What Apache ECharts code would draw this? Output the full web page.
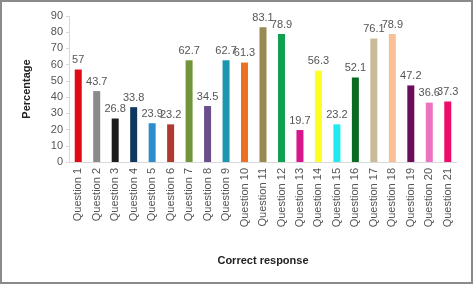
<!DOCTYPE html>
<html><head><meta charset="utf-8">
<script src="https://cdn.jsdelivr.net/npm/echarts@6/dist/echarts.min.js"></script>
<style>html,body{margin:0;padding:0;background:#fff}#c{width:474px;height:285px}</style>
</head><body><div id="c"></div>
<script>
const categories = ["Question 1","Question 2","Question 3","Question 4","Question 5","Question 6","Question 7","Question 8","Question 9","Question 10","Question 11","Question 12","Question 13","Question 14","Question 15","Question 16","Question 17","Question 18","Question 19","Question 20","Question 21"];
const values = [57,43.7,26.8,33.8,23.9,23.2,62.7,34.5,62.7,61.3,83.1,78.9,19.7,56.3,23.2,52.1,76.1,78.9,47.2,36.6,37.3];
const colors = ["#e00a14","#8a8a8a","#1c1c1c","#10385e","#2e8ccc","#b13a30","#72953a","#6a4e8c","#1a96ae","#ee7022","#988a52","#10a050","#d8168c","#ffff22","#22e8f0","#0a6a22","#c8bb96","#f8c094","#6a0e5a","#ee72c2","#ee0c6a"];
const yTicks = [0,10,20,30,40,50,60,70,80,90];

const chart = echarts.init(document.getElementById('c'));
chart.setOption({
  animation: false,
  graphic: [{type:'rect', shape:{x:1,y:1,width:471,height:282}, style:{fill:'none', stroke:'#8a8a8a', lineWidth:2}}],
  grid: {left: 69, right: 17, top: 16, bottom: 123},
  xAxis: {
    type: 'category', data: categories,
    name: 'Correct response', nameLocation: 'middle', nameGap: 93,
    nameTextStyle: {fontFamily: 'Liberation Sans', fontWeight: 'bold', fontSize: 11, color: '#222'},
    axisLine: {lineStyle: {color: '#d9d9d9'}},
    axisTick: {show: false},
    axisLabel: {rotate: 90, interval: 0, fontFamily: 'Liberation Sans', fontSize: 11, color: '#555', margin: 6}
  },
  yAxis: {
    type: 'value', min: 0, max: 90, interval: 10,
    name: 'Percentage', nameLocation: 'middle', nameGap: 37, nameRotate: 90,
    nameTextStyle: {fontFamily: 'Liberation Sans', fontWeight: 'bold', fontSize: 11, color: '#222'},
    axisLine: {show: true, lineStyle: {color: '#d9d9d9'}},
    axisTick: {show: true, length: 3, lineStyle: {color: '#d9d9d9'}},
    splitLine: {show: false},
    axisLabel: {fontFamily: 'Liberation Sans', fontSize: 11, color: '#555', margin: 6,
      formatter: v => yTicks.includes(v) ? String(v) : ''}
  },
  series: [{
    type: 'bar', barWidth: 7,
    data: values.map((v,i) => ({value: v, itemStyle: {color: colors[i]}})),
    label: {show: true, position: 'top', distance: 4, fontFamily: 'Liberation Sans', fontSize: 11, color: '#555'}
  }]
});
</script></body></html>
